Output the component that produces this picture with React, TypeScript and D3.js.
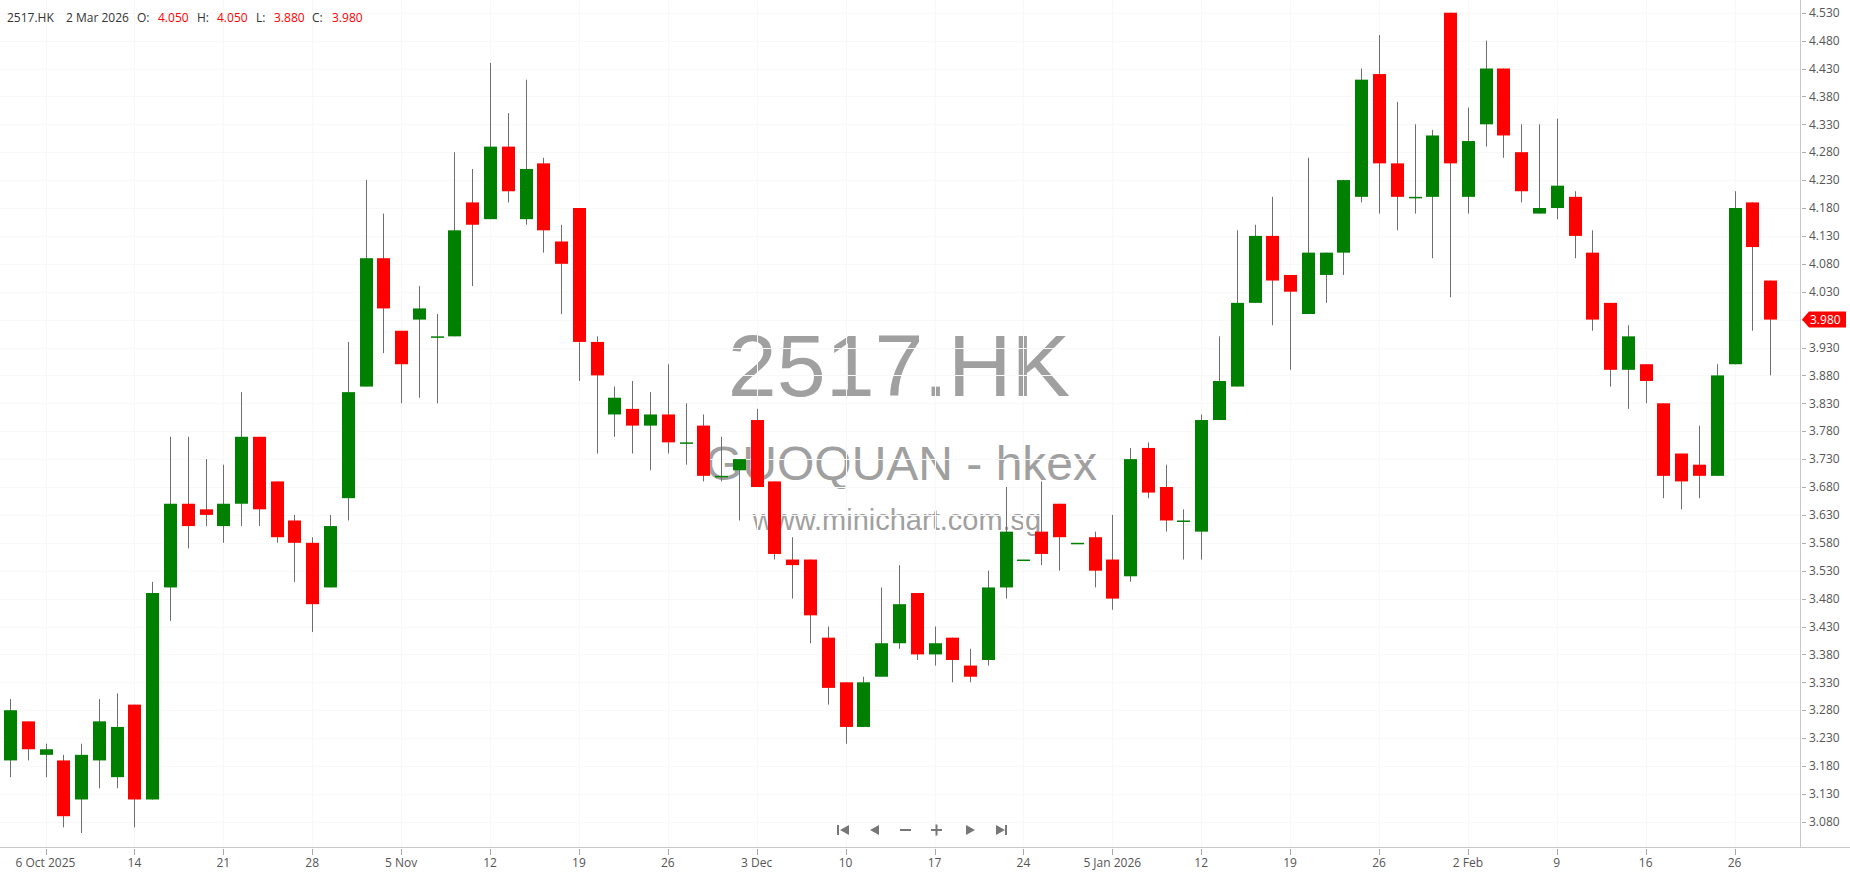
import React from "react";
import * as d3 from "d3";

const symbol = "2517.HK";
const companyName = "GUOQUAN - hkex";
const siteName = "www.minichart.com.sg";
const lastDateLabel = "2 Mar 2026";

const dates = [
  "2025-10-02","2025-10-03","2025-10-06","2025-10-08","2025-10-09","2025-10-10","2025-10-13","2025-10-14","2025-10-15","2025-10-16",
  "2025-10-17","2025-10-20","2025-10-21","2025-10-22","2025-10-23","2025-10-24","2025-10-27","2025-10-28","2025-10-30","2025-10-31",
  "2025-11-03","2025-11-04","2025-11-05","2025-11-06","2025-11-07","2025-11-10","2025-11-11","2025-11-12","2025-11-13","2025-11-14",
  "2025-11-17","2025-11-18","2025-11-19","2025-11-20","2025-11-21","2025-11-24","2025-11-25","2025-11-26","2025-11-27","2025-11-28",
  "2025-12-01","2025-12-02","2025-12-03","2025-12-04","2025-12-05","2025-12-08","2025-12-09","2025-12-10","2025-12-11","2025-12-12",
  "2025-12-15","2025-12-16","2025-12-17","2025-12-18","2025-12-19","2025-12-22","2025-12-23","2025-12-24","2025-12-29","2025-12-30",
  "2025-12-31","2026-01-02","2026-01-05","2026-01-06","2026-01-07","2026-01-08","2026-01-09","2026-01-12","2026-01-13","2026-01-14",
  "2026-01-15","2026-01-16","2026-01-19","2026-01-20","2026-01-21","2026-01-22","2026-01-23","2026-01-26","2026-01-27","2026-01-28",
  "2026-01-29","2026-01-30","2026-02-02","2026-02-03","2026-02-04","2026-02-05","2026-02-06","2026-02-09","2026-02-10","2026-02-11",
  "2026-02-12","2026-02-13","2026-02-16","2026-02-20","2026-02-23","2026-02-24","2026-02-25","2026-02-26","2026-02-27","2026-03-02",
];

const open = [
  3.19,3.26,3.20,3.19,3.12,3.19,3.16,3.29,3.12,3.50,3.65,3.64,3.61,3.65,3.77,3.69,3.62,3.58,3.50,3.66,
  3.86,4.09,3.96,3.98,3.95,3.95,4.19,4.16,4.29,4.16,4.26,4.12,4.18,3.94,3.81,3.82,3.79,3.81,3.76,3.79,
  3.70,3.71,3.80,3.69,3.55,3.55,3.41,3.33,3.25,3.34,3.40,3.49,3.38,3.41,3.36,3.37,3.50,3.55,3.60,3.65,3.58,
  3.59,3.55,3.52,3.75,3.68,3.62,3.60,3.80,3.86,4.01,4.13,4.06,3.99,4.06,4.10,4.20,4.42,4.26,4.20,4.20,4.53,
  4.20,4.33,4.43,4.28,4.17,4.18,4.20,4.10,4.01,3.89,3.90,3.83,3.74,3.72,3.70,3.90,4.19,
  4.05,
];
const high = [
  3.30,3.26,3.22,3.20,3.22,3.30,3.31,3.29,3.51,3.77,3.77,3.73,3.72,3.85,3.77,3.69,3.63,3.59,3.63,3.94,
  4.23,4.17,3.96,4.04,3.99,4.28,4.25,4.44,4.35,4.41,4.27,4.15,4.18,3.95,3.86,3.87,3.85,3.90,3.83,3.81,
  3.77,3.73,3.82,3.69,3.59,3.55,3.43,3.33,3.34,3.50,3.54,3.49,3.43,3.41,3.39,3.53,3.68,3.55,3.69,3.65,3.58,
  3.60,3.63,3.75,3.76,3.72,3.64,3.81,3.95,4.14,4.15,4.20,4.06,4.27,4.10,4.23,4.43,4.49,4.37,4.33,4.32,4.53,
  4.36,4.48,4.43,4.33,4.33,4.34,4.21,4.14,4.01,3.97,3.90,3.83,3.74,3.79,3.90,4.21,4.19,
  4.05,
];
const low = [
  3.16,3.19,3.16,3.07,3.06,3.14,3.14,3.07,3.12,3.44,3.57,3.61,3.58,3.61,3.61,3.58,3.51,3.42,3.50,3.62,
  3.86,3.92,3.83,3.84,3.83,3.95,4.04,4.16,4.19,4.15,4.10,3.99,3.87,3.74,3.77,3.74,3.71,3.74,3.72,3.69,
  3.69,3.62,3.68,3.55,3.48,3.40,3.29,3.22,3.25,3.34,3.39,3.37,3.36,3.33,3.33,3.36,3.48,3.55,3.54,3.53,3.58,
  3.50,3.46,3.51,3.66,3.60,3.55,3.55,3.80,3.86,4.01,3.97,3.89,3.99,4.01,4.06,4.19,4.17,4.14,4.17,4.09,4.02,
  4.17,4.29,4.27,4.19,4.17,4.16,4.09,3.96,3.86,3.82,3.83,3.66,3.64,3.66,3.70,3.90,3.96,
  3.88,
];
const close = [
  3.28,3.21,3.21,3.09,3.20,3.26,3.25,3.12,3.49,3.65,3.61,3.63,3.65,3.77,3.64,3.59,3.58,3.47,3.61,3.85,
  4.09,4.00,3.90,4.00,3.95,4.14,4.15,4.29,4.21,4.25,4.14,4.08,3.94,3.88,3.84,3.79,3.81,3.76,3.76,3.70,
  3.70,3.73,3.68,3.56,3.54,3.45,3.32,3.25,3.33,3.40,3.47,3.38,3.40,3.37,3.34,3.50,3.60,3.55,3.56,3.59,3.58,
  3.53,3.48,3.73,3.67,3.62,3.62,3.80,3.87,4.01,4.13,4.05,4.03,4.10,4.10,4.23,4.41,4.26,4.20,4.20,4.31,4.26,
  4.30,4.43,4.31,4.21,4.18,4.22,4.13,3.98,3.89,3.95,3.87,3.70,3.69,3.70,3.88,4.18,4.11,
  3.98,
];

const yTicks = [
  3.08,3.13,3.18,3.23,3.28,3.33,3.38,3.43,3.48,3.53,3.58,3.63,3.68,3.73,3.78,
  3.83,3.88,3.93,3.98,4.03,4.08,4.13,4.18,4.23,4.28,4.33,4.38,4.43,4.48,4.53,
];

const tickDates = [
  "2025-10-06","2025-10-14","2025-10-21","2025-10-28","2025-11-05","2025-11-12","2025-11-19","2025-11-26","2025-12-03","2025-12-10",
  "2025-12-17","2025-12-24","2026-01-05","2026-01-12","2026-01-19","2026-01-26","2026-02-02","2026-02-09","2026-02-16","2026-02-26",
];
const tickLabels = [
  "6 Oct 2025","14","21","28","5 Nov","12","19","26","3 Dec","10",
  "17","24","5 Jan 2026","12","19","26","2 Feb","9","16","26",
];

const W = 1850;
const H = 874;
const plotRight = 1800;
const axisY = 847;
const UI_FONT = "'Open Sans', 'Noto Sans', sans-serif";
const WM_FONT = "'Liberation Sans', Arial, sans-serif";
const GREEN = "#008000";
const RED = "#ff0000";

export default function App() {
  const x = d3.scaleLinear().domain([0, dates.length - 1]).range([9.94, 1770.16]);
  const y = d3.scaleLinear().domain([3.08, 4.53]).range([821.8, 12.7]);
  const bodyW = 13;

  const n = dates.length;
  const last = n - 1;
  const lastClose = close[last];
  const ly = y(lastClose);

  const headerItems: { t: string; x: number; c: string }[] = [
    { t: symbol, x: 7, c: "#333" },
    { t: lastDateLabel, x: 66, c: "#333" },
    { t: "O:", x: 137, c: "#333" },
    { t: open[last].toFixed(3), x: 158, c: RED },
    { t: "H:", x: 197, c: "#333" },
    { t: high[last].toFixed(3), x: 217, c: RED },
    { t: "L:", x: 256, c: "#333" },
    { t: low[last].toFixed(3), x: 274, c: RED },
    { t: "C:", x: 312, c: "#333" },
    { t: close[last].toFixed(3), x: 332, c: RED },
  ];

  const tickXs = tickDates.map((d) => x(dates.indexOf(d)));

  return (
    <svg
      width={W}
      height={H}
      style={{ position: "fixed", left: 0, top: 0, background: "#fff" }}
    >
      <rect x={0} y={0} width={W} height={H} fill="#fff" />
      {/* watermark */}
      <g fill="#a0a0a0" fontFamily={WM_FONT} textAnchor="middle">
        <text x={899} y={396} fontSize={88}>{symbol}</text>
        <text x={901} y={480} fontSize={48}>{companyName}</text>
        <text x={897} y={530} fontSize={29}>{siteName}</text>
      </g>
      {/* grid */}
      <g stroke="#f8f8f8" strokeWidth={1}>
        {yTicks.map((v, i) => (
          <line key={"gy" + i} x1={0} x2={plotRight} y1={Math.round(y(v)) + 0.5} y2={Math.round(y(v)) + 0.5} />
        ))}
        {tickXs.map((tx, i) => (
          <line key={"gx" + i} x1={Math.round(tx) + 0.5} x2={Math.round(tx) + 0.5} y1={0} y2={axisY} />
        ))}
      </g>
      {/* candles */}
      <g>
        {dates.map((d, i) => {
          const cx = Math.round(x(i)) + 0.5;
          const up = close[i] >= open[i];
          const col = up ? GREEN : RED;
          const top = y(Math.max(open[i], close[i]));
          const bot = y(Math.min(open[i], close[i]));
          const h = Math.max(bot - top, 1.5);
          return (
            <g key={d}>
              <line x1={cx} x2={cx} y1={y(high[i])} y2={y(low[i])} stroke="#6e6e6e" strokeWidth={1} />
              <rect x={cx - bodyW / 2} y={top} width={bodyW} height={h} fill={col} />
            </g>
          );
        })}
      </g>
      {/* axes */}
      <line x1={plotRight + 0.5} x2={plotRight + 0.5} y1={0} y2={axisY} stroke="#c8c8c8" />
      <line x1={0} x2={W} y1={axisY + 0.5} y2={axisY + 0.5} stroke="#c8c8c8" />
      <g fontFamily={UI_FONT} fontSize={12} fill="#555">
        {yTicks.map((v, i) => (
          <g key={"yt" + i}>
            <line x1={plotRight + 2} x2={plotRight + 6} y1={Math.round(y(v)) + 0.5} y2={Math.round(y(v)) + 0.5} stroke="#aaa" />
            <text x={1809} y={y(v)} dy="0.35em">{v.toFixed(3)}</text>
          </g>
        ))}
        {tickXs.map((tx, i) => (
          <g key={"xt" + i}>
            <line x1={Math.round(tx) + 0.5} x2={Math.round(tx) + 0.5} y1={axisY + 2} y2={axisY + 8} stroke="#aaa" />
            <text x={tx} y={867} textAnchor="middle">{tickLabels[i]}</text>
          </g>
        ))}
      </g>
      {/* last price tag */}
      <path
        d={`M${plotRight + 2},${ly} L${plotRight + 9},${ly - 8} L${W - 4},${ly - 8} L${W - 4},${ly + 8} L${plotRight + 9},${ly + 8} Z`}
        fill={RED}
      />
      <text x={1810} y={ly} dy="0.35em" fontFamily={UI_FONT} fontSize={12} fill="#fff">
        {lastClose.toFixed(3)}
      </text>
      {/* header */}
      <g fontFamily={UI_FONT} fontSize={12}>
        {headerItems.map((it, i) => (
          <text key={"h" + i} x={it.x} y={22} fill={it.c}>{it.t}</text>
        ))}
      </g>
      {/* nav buttons */}
      <g fill="#777" stroke="none">
        <rect x={837} y={825} width={2} height={10} />
        <path d="M849,825 L840,830 L849,835 Z" />
        <path d="M879,825 L870,830 L879,835 Z" />
        <rect x={900} y={829} width={11} height={2} />
        <rect x={931} y={829} width={11} height={2} />
        <rect x={935.5} y={824.5} width={2} height={11} />
        <path d="M966,825 L975,830 L966,835 Z" />
        <path d="M996,825 L1005,830 L996,835 Z" />
        <rect x={1005} y={825} width={2} height={10} />
      </g>
    </svg>
  );
}
